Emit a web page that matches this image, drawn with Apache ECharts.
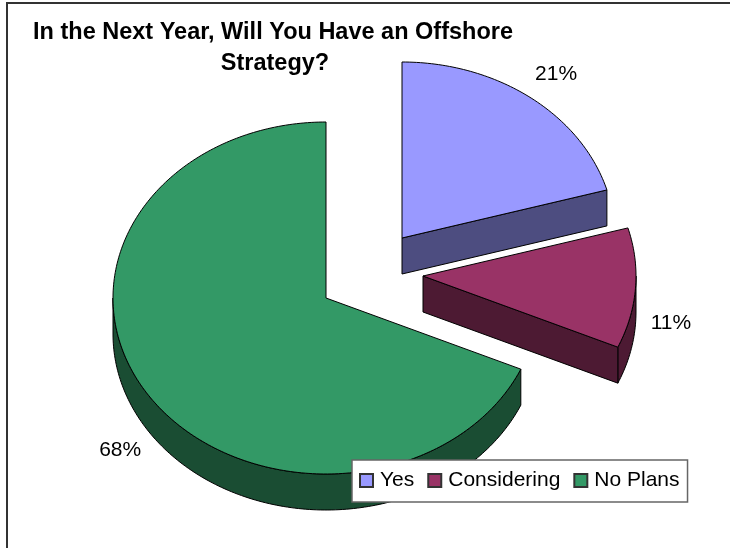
<!DOCTYPE html>
<html>
<head>
<meta charset="utf-8">
<style>html,body{margin:0;padding:0;background:#fff;overflow:hidden}#chart{width:730px;height:548px}</style>
<script src="https://cdn.jsdelivr.net/npm/echarts@6/dist/echarts.min.js"></script>
</head>
<body>
<div id="chart"></div>
<script>
const categories = ['Yes', 'Considering', 'No Plans'];
const values = [21, 11, 68];
const titleLines = ['In the Next Year, Will You Have an Offshore', 'Strategy?'];

const faceColors = ['#9999FF', '#993366', '#339966'];
const wallColors = ['#4D4D80', '#4D1A33', '#1A4D33'];

// Pie geometry: tilted disc with each slice pulled out to its own centre.
const radiusX = 213;
const radiusY = 176;
const depth = 36;
const sliceCentres = [[402, 238], [423, 276], [326, 298]];
const labelShift = [[4, -4], [4, 28], [1, 44]];
const labelReach = 1.15;
const projectionSkew = 1.5;

const total = values.reduce((a, b) => a + b, 0);
const deg = Math.PI / 180;

// Share of the circle to rim angle, with the small skew of the tilted projection.
function rimAngle(share) {
  const t = share / total * 2 * Math.PI;
  return t - projectionSkew * deg * Math.sin(t);
}

function rimPoint(c, t, drop) {
  return [c[0] + radiusX * Math.sin(t), c[1] - radiusY * Math.cos(t) + (drop || 0)];
}

function arcPoints(c, from, to, drop) {
  const pts = [];
  const steps = Math.max(2, Math.ceil((to - from) / deg));
  for (let i = 0; i <= steps; i++) {
    pts.push(rimPoint(c, from + (to - from) * i / steps, drop));
  }
  return pts;
}

function wallShape(points, fill) {
  return {
    type: 'polygon',
    shape: { points },
    style: { fill, stroke: '#000', lineWidth: 1 }
  };
}

function sliceRenderer(index) {
  return function (params, api) {
    const before = values.slice(0, index).reduce((a, b) => a + b, 0);
    const start = rimAngle(before);
    const end = rimAngle(before + api.value(0));
    const c = sliceCentres[index];
    const children = [];

    // Outer rim wall, only the stretch that faces the viewer.
    const rimFrom = Math.max(start, Math.PI / 2);
    const rimTo = Math.min(end, 3 * Math.PI / 2);
    if (rimTo > rimFrom) {
      const top = arcPoints(c, rimFrom, rimTo, 0);
      const bottom = arcPoints(c, rimFrom, rimTo, depth).reverse();
      children.push(wallShape(top.concat(bottom), wallColors[index]));
    }

    // Cut face on the slice's trailing edge, seen while it turns towards the viewer.
    if (end < Math.PI) {
      const p = rimPoint(c, end);
      children.push(wallShape([c, p, [p[0], p[1] + depth], [c[0], c[1] + depth]], wallColors[index]));
    }

    // Top face.
    children.push({
      type: 'polygon',
      shape: { points: [c].concat(arcPoints(c, start, end, 0)) },
      style: { fill: faceColors[index], stroke: '#000', lineWidth: 1 }
    });

    // Percentage label along the slice's middle direction.
    const mid = (before + api.value(0) / 2) / total * 2 * Math.PI;
    const anchor = [
      c[0] + radiusX * labelReach * Math.sin(mid) + labelShift[index][0],
      c[1] - radiusY * labelReach * Math.cos(mid) + labelShift[index][1]
    ];
    children.push({
      type: 'text',
      style: {
        x: anchor[0],
        y: anchor[1],
        text: Math.round(api.value(0) / total * 100) + '%',
        fill: '#000',
        font: '21px "Liberation Sans", Arial, sans-serif',
        align: 'center',
        verticalAlign: 'middle'
      }
    });

    return { type: 'group', children };
  };
}

const chart = echarts.init(document.getElementById('chart'), null, { renderer: 'canvas' });
chart.setOption({
  animation: false,
  backgroundColor: '#fff',
  title: titleLines.map((line, i) => ({
    text: line,
    left: 268 + i * 2,
    top: 16 + i * 31,
    textAlign: 'center',
    textStyle: {
      fontFamily: '"Liberation Sans", Arial, sans-serif',
      fontWeight: 'bold',
      fontSize: 23.5,
      color: '#000'
    }
  })),
  legend: {
    data: categories,
    left: 352,
    top: 460,
    orient: 'horizontal',
    padding: [10, 8, 11, 7],
    itemGap: 13,
    itemWidth: 13,
    itemHeight: 13,
    icon: 'rect',
    backgroundColor: '#fff',
    borderColor: '#666',
    borderWidth: 1.5,
    selectedMode: false,
    textStyle: {
      fontFamily: '"Liberation Sans", Arial, sans-serif',
      fontSize: 21,
      color: '#000',
      padding: [0, 0, 0, 2]
    }
  },
  // Outer frame runs past the right and bottom of the page.
  graphic: [{
    type: 'rect',
    silent: true,
    z: -1,
    shape: { x: 7, y: 3, width: 800, height: 620 },
    style: { fill: 'none', stroke: '#333', lineWidth: 2 }
  }],
  series: categories.map((name, i) => ({
    type: 'custom',
    name,
    coordinateSystem: 'none',
    silent: true,
    z: 2,
    itemStyle: { color: faceColors[i], borderColor: '#333', borderWidth: 1 },
    renderItem: sliceRenderer(i),
    data: [[values[i]]]
  }))
});
</script>
</body>
</html>
